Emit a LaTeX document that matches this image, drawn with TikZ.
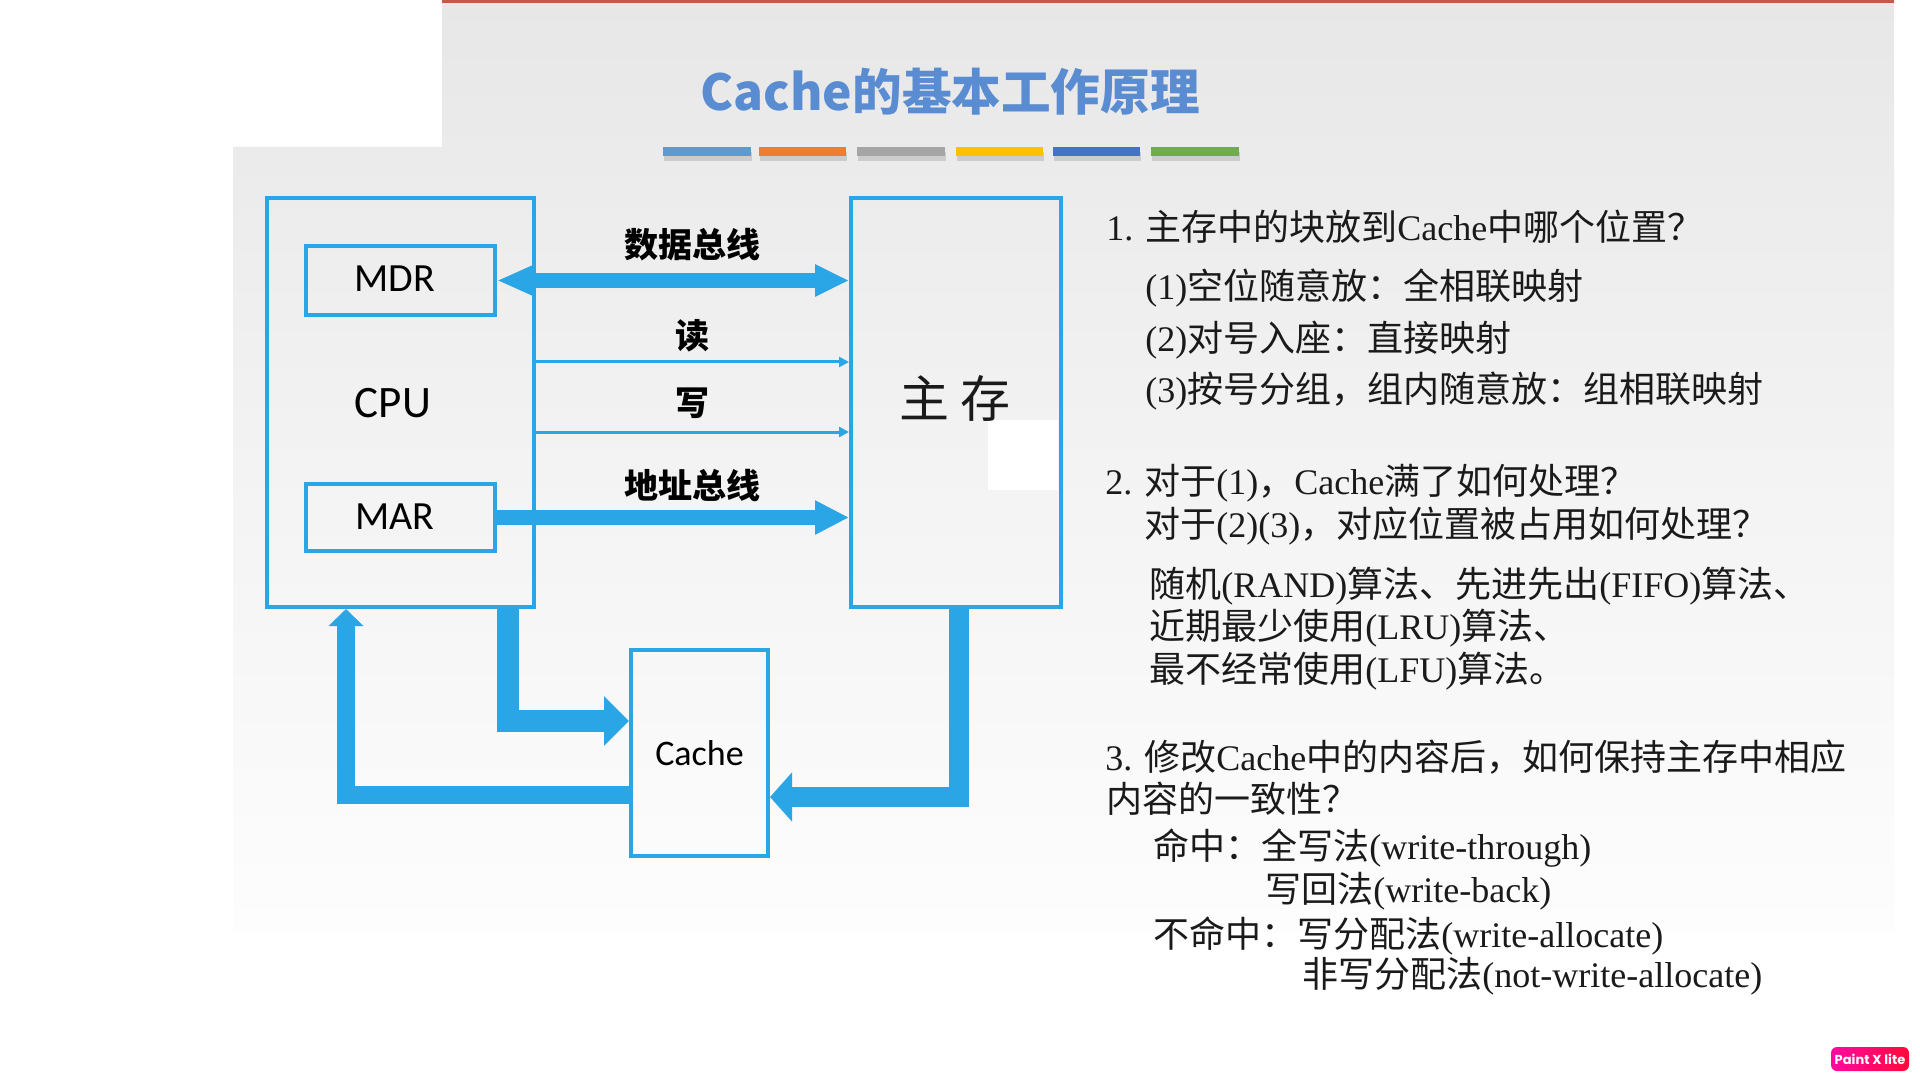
\documentclass[tikz,border=0pt]{standalone}
\usepackage{fontspec}
\setmainfont{Liberation Serif}
\newfontfamily\cjk{Noto Sans CJK SC}
\newfontfamily\carl{Carlito}
\newfontfamily\popf{Poppins}
\usetikzlibrary{arrows.meta}
\definecolor{cblue}{HTML}{2AA5E6}
\definecolor{titleblue}{HTML}{5A8CD2}
\definecolor{slidetop}{HTML}{E7E7E7}
\definecolor{slidemid}{HTML}{F3F3F3}
\definecolor{slidebot}{HTML}{FDFDFD}
\definecolor{redline}{HTML}{C25A48}
\definecolor{accA}{HTML}{5B9BD5}
\definecolor{accB}{HTML}{ED7D31}
\definecolor{accC}{HTML}{A5A5A5}
\definecolor{accD}{HTML}{FFC000}
\definecolor{accE}{HTML}{4472C4}
\definecolor{accF}{HTML}{70AD47}
\definecolor{badgeL}{HTML}{FF0AA2}
\definecolor{badgeR}{HTML}{FF0A3A}
\definecolor{txtgray}{HTML}{1A1A1A}
\newcommand\zh[1]{{\cjk #1}}
\pgfdeclarelayer{bg}
\pgfdeclarelayer{mid}
\pgfsetlayers{bg,mid,main}
\begin{document}
\begin{tikzpicture}[x=0.5pt,y=-0.5pt,
  box/.style={draw=cblue, line width=2pt, inner sep=0pt},
  bus/.style={draw=cblue, line width=7.5pt},
  thinarrow/.style={draw=cblue, line width=1.5pt, -{Triangle[length=5pt,width=5pt]}},
  fat/.style={draw=cblue, line join=miter},
  buslbl/.style={font=\cjk\bfseries\fontsize{17pt}{20pt}\selectfont, inner sep=0pt},
  latinlbl/.style={font=\carl\fontsize{#1}{24pt}\selectfont},
  txt/.style={anchor=base west, inner sep=0pt, text=txtgray, font=\fontsize{18pt}{22pt}\selectfont},
  title/.style={font=\cjk\bfseries\fontsize{24.8pt}{30pt}\selectfont, text=titleblue},
  badge/.style={rounded corners=3pt, left color=badgeL, right color=badgeR, text=white,
    font=\popf\bfseries\fontsize{6.5pt}{7pt}\selectfont, minimum width=39pt, minimum height=12pt, inner sep=0pt}
]
\useasboundingbox (0,0) rectangle (1920,1080);
\begin{pgfonlayer}{bg}
\fill[white] (0,0) rectangle (1920,1080);
\shade[top color=slidetop, bottom color=slidebot, middle color=slidemid]
  (442,0) -- (1894,0) -- (1894,932) -- (233,932) -- (233,147) -- (442,147) -- cycle;
\draw[redline, line width=1.5pt] (442,2) -- (1894,2);
\foreach \a/\b/\c in {663/751/accA, 759/846/accB, 857/945/accC, 956/1043/accD, 1053/1140/accE, 1151/1239/accF}{
  \fill[black, opacity=0.13] (\a+1,152) rectangle (\b+1,161);
  \fill[\c] (\a,147) rectangle (\b,156);
}
\end{pgfonlayer}

% title
\node[title] (title) at (950,92) {Cache的基本工作原理};

% boxes
\node[box, minimum width=133.5pt, minimum height=204.5pt] (cpu) at (400.5,402.5) {};
\node[box, minimum width=94.5pt, minimum height=34.5pt] (mdr) at (400.5,280.5) {};
\node[box, minimum width=94.5pt, minimum height=33.5pt] (mar) at (400.5,517.5) {};
\node[latinlbl=20pt] (mdrtxt) at (395,279) {MDR};
\node[latinlbl=20pt] (martxt) at (395,517) {MAR};
\node[latinlbl=22.5pt] (cputxt) at (393,403) {CPU};
\node[box, minimum width=105pt, minimum height=204.5pt] (mem) at (956,402.5) {};
\node[font=\cjk\fontsize{25pt}{30pt}\selectfont, text=txtgray] (memtxt) at (955,398) {主 存};
\node[box, minimum width=68.5pt, minimum height=103pt, latinlbl=18pt] (cache) at (699.5,753) {Cache};

% bus labels
\node[buslbl] (lbldata) at (692,245) {数据总线};
\node[buslbl] (lblread) at (692,336) {读};
\node[buslbl] (lblwrite) at (692,403) {写};
\node[buslbl] (lbladdr) at (692,486) {地址总线};

\coordinate (rdy) at (700,362);
\coordinate (wry) at (700,432);
\coordinate (ca) at (508,721);
\coordinate (cb) at (346,795);
\coordinate (cc) at (959,797);

\begin{pgfonlayer}{mid}
\fill[white] (988,420) rectangle (1058,490);
\draw[bus, {Triangle[length=18pt,width=14pt]}-{Triangle[length=17pt,width=15pt]}] (mdr.east) -- (mem.west |- mdr.east);
\draw[bus, -{Triangle[length=17pt,width=16pt]}] (mar.east) -- (mem.west |- mar.east);
\draw[thinarrow] (cpu.east |- rdy) -- (mem.west |- rdy);
\draw[thinarrow] (cpu.east |- wry) -- (mem.west |- wry);
\draw[fat, line width=11pt, -{Triangle[length=12.5pt,width=24pt]}] (ca |- cpu.south) |- (cache.west |- ca);
\draw[fat, line width=9pt, -{Triangle[length=8.5pt,width=17pt]}] (cache.west |- cb) -| (cb |- cpu.south);
\draw[fat, line width=10pt, -{Triangle[length=11pt,width=24pt]}] (cc |- mem.south) |- (cache.east |- cc);
\end{pgfonlayer}

% right-hand text
\node[txt] (t1) at (1106,241) {1. \zh{主存中的块放到}Cache\zh{中哪个位置？}};
\node[txt] (t2) at (1145,300) {(1)\zh{空位随意放：全相联映射}};
\node[txt] (t3) at (1145,351) {(2)\zh{对号入座：直接映射}};
\node[txt] (t4) at (1145,402) {(3)\zh{按号分组，组内随意放：组相联映射}};
\node[txt] (t5) at (1105,494) {2. \zh{对于}(1)\zh{，}Cache\zh{满了如何处理？}};
\node[txt] (t6) at (1144,537) {\zh{对于}(2)(3)\zh{，对应位置被占用如何处理？}};
\node[txt] (t7) at (1149,597) {\zh{随机}(RAND)\zh{算法、先进先出}(FIFO)\zh{算法、}};
\node[txt] (t8) at (1149,639) {\zh{近期最少使用}(LRU)\zh{算法、}};
\node[txt] (t9) at (1149,682) {\zh{最不经常使用}(LFU)\zh{算法。}};
\node[txt] (t10) at (1105,770) {3. \zh{修改}Cache\zh{中的内容后，如何保持主存中相应}};
\node[txt] (t11) at (1106,812) {\zh{内容的一致性？}};
\node[txt] (t12) at (1153,859) {\zh{命中：全写法}(write-through)};
\node[txt] (t13) at (1265,902) {\zh{写回法}(write-back)};
\node[txt] (t14) at (1153,947) {\zh{不命中：写分配法}(write-allocate)};
\node[txt] (t15) at (1302,987) {\zh{非写分配法}(not-write-allocate)};

% badge
\node[badge] (badge) at (1870,1059) {Paint X lite};
\end{tikzpicture}
\end{document}
